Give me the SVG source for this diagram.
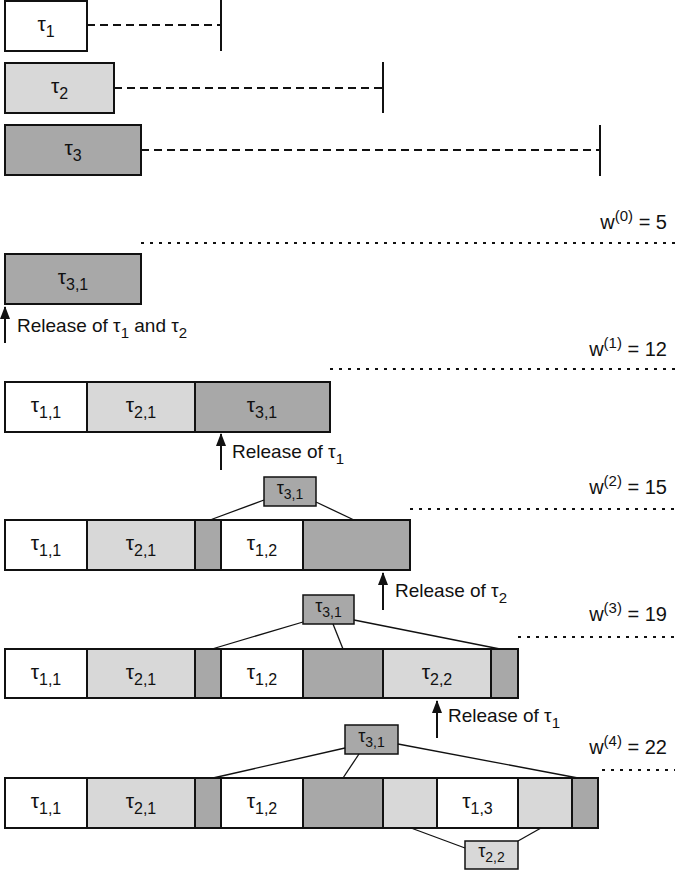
<svg xmlns="http://www.w3.org/2000/svg" width="675" height="871" viewBox="0 0 675 871">
<style>
text{font-family:"Liberation Sans",Arial,sans-serif;fill:#111}
.lbl{font-size:21px;text-anchor:middle}
.sm{font-size:18px;text-anchor:middle}
.sub{font-size:16px}
.ssub{font-size:14px}
.rel{font-size:19px}
.rel .sub{font-size:15px}
.w{font-size:20px;text-anchor:end}
.w .sub{font-size:15px}
.b{stroke:#111;stroke-width:2}
.s{stroke:#111;stroke-width:1.5}
.wh{fill:#fff}
.lt{fill:#d8d8d8}
.dk{fill:#a8a8a8}
.dash{stroke:#111;stroke-width:2;stroke-dasharray:8 5;fill:none}
.dot{stroke:#111;stroke-width:2;stroke-dasharray:3 6;fill:none}
.tick{stroke:#111;stroke-width:2}
.arr{stroke:#111;stroke-width:2;marker-end:url(#ah)}
.ln{stroke:#111;stroke-width:1.3;fill:none}
</style>
<defs>
<marker id="ah" viewBox="0 0 13 10" refX="12" refY="5" markerWidth="13" markerHeight="10" markerUnits="userSpaceOnUse" orient="auto">
<path d="M0,0 L13,5 L0,10 Z" fill="#111"/>
</marker>
</defs>

<!-- task definitions -->
<g id="task1">
<rect class="b wh" x="5" y="1" width="82" height="50"/>
<text class="lbl" x="46" y="31">τ<tspan class="sub" dy="6">1</tspan></text>
<line class="dash" x1="87" y1="25" x2="221" y2="25"/>
<line class="tick" x1="221" y1="0" x2="221" y2="51"/>
</g>
<g id="task2">
<rect class="b lt" x="5" y="63" width="109" height="50"/>
<text class="lbl" x="59.5" y="93">τ<tspan class="sub" dy="6">2</tspan></text>
<line class="dash" x1="114" y1="88" x2="383" y2="88"/>
<line class="tick" x1="383" y1="62" x2="383" y2="113"/>
</g>
<g id="task3">
<rect class="b dk" x="5" y="125" width="136" height="50"/>
<text class="lbl" x="73" y="155">τ<tspan class="sub" dy="6">3</tspan></text>
<line class="dash" x1="141" y1="150" x2="600" y2="150"/>
<line class="tick" x1="600" y1="125" x2="600" y2="176"/>
</g>

<!-- iteration 0 -->
<g id="iter0">
<text class="w" x="667" y="229">w<tspan class="sub" dy="-8">(0)</tspan><tspan dy="8"> = 5</tspan></text>
<line class="dot" x1="141" y1="243" x2="675" y2="243"/>
<rect class="b dk" x="5" y="254" width="136" height="50"/>
<text class="lbl" x="73" y="284">τ<tspan class="sub" dy="6">3,1</tspan></text>
</g>

<!-- iteration 1 -->
<g id="iter1">
<text class="w" x="667" y="356">w<tspan class="sub" dy="-8">(1)</tspan><tspan dy="8"> = 12</tspan></text>
<line class="dot" x1="330" y1="369" x2="675" y2="369"/>
<rect class="b wh" x="5" y="382" width="82" height="50"/>
<rect class="b lt" x="87" y="382" width="108" height="50"/>
<rect class="b dk" x="195" y="382" width="135" height="50"/>
<text class="lbl" x="46" y="412">τ<tspan class="sub" dy="6">1,1</tspan></text>
<text class="lbl" x="141" y="412">τ<tspan class="sub" dy="6">2,1</tspan></text>
<text class="lbl" x="262" y="412">τ<tspan class="sub" dy="6">3,1</tspan></text>
</g>

<!-- iteration 2 -->
<g id="iter2">
<text class="w" x="667" y="494">w<tspan class="sub" dy="-8">(2)</tspan><tspan dy="8"> = 15</tspan></text>
<line class="dot" x1="410" y1="509" x2="675" y2="509"/>
<rect class="b wh" x="5" y="520" width="82" height="50"/>
<rect class="b lt" x="87" y="520" width="108" height="50"/>
<rect class="b dk" x="195" y="520" width="26" height="50"/>
<rect class="b wh" x="221" y="520" width="82" height="50"/>
<rect class="b dk" x="303" y="520" width="107" height="50"/>
<text class="lbl" x="46" y="550">τ<tspan class="sub" dy="6">1,1</tspan></text>
<text class="lbl" x="141" y="550">τ<tspan class="sub" dy="6">2,1</tspan></text>
<text class="lbl" x="262" y="550">τ<tspan class="sub" dy="6">1,2</tspan></text>
</g>
<g id="iter2-t31">
<rect class="s dk" x="264" y="477" width="52" height="29"/>
<text class="sm" x="290" y="494">τ<tspan class="ssub" dy="5">3,1</tspan></text>
</g>

<!-- iteration 3 -->
<g id="iter3">
<text class="w" x="667" y="621">w<tspan class="sub" dy="-8">(3)</tspan><tspan dy="8"> = 19</tspan></text>
<line class="dot" x1="518" y1="637" x2="675" y2="637"/>
<rect class="b wh" x="5" y="649" width="82" height="49"/>
<rect class="b lt" x="87" y="649" width="108" height="49"/>
<rect class="b dk" x="195" y="649" width="26" height="49"/>
<rect class="b wh" x="221" y="649" width="82" height="49"/>
<rect class="b dk" x="303" y="649" width="80" height="49"/>
<rect class="b lt" x="383" y="649" width="108" height="49"/>
<rect class="b dk" x="491" y="649" width="27" height="49"/>
<text class="lbl" x="46" y="679">τ<tspan class="sub" dy="6">1,1</tspan></text>
<text class="lbl" x="141" y="679">τ<tspan class="sub" dy="6">2,1</tspan></text>
<text class="lbl" x="262" y="679">τ<tspan class="sub" dy="6">1,2</tspan></text>
<text class="lbl" x="437" y="679">τ<tspan class="sub" dy="6">2,2</tspan></text>
</g>
<g id="iter3-t31">
<rect class="s dk" x="303" y="595" width="51" height="29"/>
<text class="sm" x="328.5" y="612">τ<tspan class="ssub" dy="5">3,1</tspan></text>
</g>

<!-- iteration 4 -->
<g id="iter4">
<text class="w" x="667" y="754">w<tspan class="sub" dy="-8">(4)</tspan><tspan dy="8"> = 22</tspan></text>
<line class="dot" x1="602" y1="770" x2="675" y2="770"/>
<rect class="b wh" x="5" y="778" width="82" height="50"/>
<rect class="b lt" x="87" y="778" width="108" height="50"/>
<rect class="b dk" x="195" y="778" width="26" height="50"/>
<rect class="b wh" x="221" y="778" width="82" height="50"/>
<rect class="b dk" x="303" y="778" width="80" height="50"/>
<rect class="b lt" x="383" y="778" width="54" height="50"/>
<rect class="b wh" x="437" y="778" width="81" height="50"/>
<rect class="b lt" x="518" y="778" width="54" height="50"/>
<rect class="b dk" x="572" y="778" width="26" height="50"/>
<text class="lbl" x="46" y="808">τ<tspan class="sub" dy="6">1,1</tspan></text>
<text class="lbl" x="141" y="808">τ<tspan class="sub" dy="6">2,1</tspan></text>
<text class="lbl" x="262" y="808">τ<tspan class="sub" dy="6">1,2</tspan></text>
<text class="lbl" x="477.5" y="808">τ<tspan class="sub" dy="6">1,3</tspan></text>
</g>
<g id="iter4-t31">
<rect class="s dk" x="345" y="725" width="53" height="29"/>
<text class="sm" x="371.5" y="742">τ<tspan class="ssub" dy="5">3,1</tspan></text>
</g>
<g id="iter4-t22">
<rect class="s lt" x="465" y="841" width="53" height="28"/>
<text class="sm" x="491.5" y="857">τ<tspan class="ssub" dy="5">2,2</tspan></text>
</g>

<!-- release annotations -->
<g id="rel1">
<text class="rel" x="17" y="332">Release of τ<tspan class="sub" dy="6">1</tspan><tspan dy="-6"> and τ</tspan><tspan class="sub" dy="6">2</tspan></text>
</g>
<g id="rel2">
<text class="rel" x="232" y="458">Release of τ<tspan class="sub" dy="6">1</tspan></text>
</g>
<g id="rel3">
<text class="rel" x="395" y="597">Release of τ<tspan class="sub" dy="6">2</tspan></text>
</g>
<g id="rel4">
<text class="rel" x="448" y="722">Release of τ<tspan class="sub" dy="6">1</tspan></text>
</g>

<!-- connectors -->
<g id="connectors">
<line class="arr" x1="5" y1="343" x2="5" y2="307"/>
<line class="arr" x1="221" y1="470" x2="221" y2="434"/>
<line class="arr" x1="383" y1="610" x2="383" y2="573"/>
<line class="arr" x1="437" y1="738" x2="437" y2="701"/>
<line class="ln" x1="264" y1="500" x2="210" y2="520"/>
<line class="ln" x1="316" y1="502" x2="354" y2="520"/>
<line class="ln" x1="303" y1="622" x2="212" y2="649"/>
<line class="ln" x1="333" y1="624" x2="343" y2="649"/>
<line class="ln" x1="354" y1="620" x2="500" y2="649"/>
<line class="ln" x1="345" y1="748" x2="213" y2="778"/>
<line class="ln" x1="359" y1="754" x2="343" y2="778"/>
<line class="ln" x1="398" y1="744" x2="578" y2="778"/>
<line class="ln" x1="411" y1="828" x2="465" y2="848"/>
<line class="ln" x1="541" y1="828" x2="518" y2="841"/>
</g>
</svg>
